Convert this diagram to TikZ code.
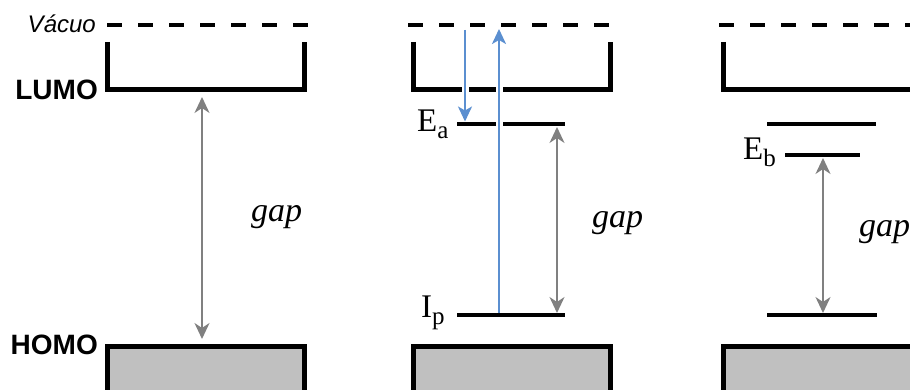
\documentclass[tikz,border=0pt]{standalone}
\usepackage{fontspec}
\setmainfont{Liberation Serif}
\newfontfamily\arialf{Liberation Sans}
\usetikzlibrary{arrows.meta}
\definecolor{bandgray}{HTML}{C0C0C0}
\definecolor{arrowgray}{HTML}{808080}
\definecolor{photon}{HTML}{5B8FD0}
\newcommand{\subtxt}[1]{{\fontsize{25}{25}\selectfont\raisebox{-7pt}{#1}}}
\begin{document}
\begin{tikzpicture}[x=1pt,y=-1pt,
  vac/.style={line width=4pt, dash pattern=on 15pt off 16pt},
  well/.style={line width=5pt, line join=miter},
  level/.style={line width=4pt},
  band/.style={line width=5pt, fill=bandgray},
  gaparrow/.style={draw=arrowgray, line width=2pt,
    {Stealth[length=16pt,width=15pt,inset=5pt]}-{Stealth[length=16pt,width=15pt,inset=5pt]}},
  photonarrow/.style={draw=photon, line width=2.2pt,
    -{Stealth[length=15pt,width=14pt,inset=4pt]},
    preaction={draw=white, line width=7pt, arrows=-}},
  sanslbl/.style={inner sep=0pt, font=\arialf\bfseries\fontsize{28}{28}\selectfont},
  vaclbl/.style={inner sep=0pt, font=\arialf\itshape\fontsize{24}{24}\selectfont},
  serlbl/.style={inner sep=0pt, font=\fontsize{33}{33}\selectfont},
  gaplbl/.style={inner sep=0pt, font=\itshape\fontsize{34}{34}\selectfont}
]
\useasboundingbox (0,0) rectangle (910,390);
\clip (0,0) rectangle (910,390);

% ---------- Panel 1 ----------
\draw[vac] (107,25) -- (308,25);
\draw[well] (107,42) -- (107,90) -- (304,90) -- (304,42);
\draw[band] (107,346) rectangle (304,420);
\node[vaclbl, anchor=base east] (vacuo) at (96,33) {Vácuo};
\node[sanslbl, anchor=base east] (lumo) at (98,100) {LUMO};
\node[sanslbl, anchor=base east] (homo) at (98,354) {HOMO};
\coordinate (g1top) at (202,97);
\coordinate (g1bot) at (202,339);
\draw[gaparrow] (g1top) -- (g1bot);
\node[gaplbl, anchor=west] (gap1) at (251,217) {gap};

% ---------- Panel 2 ----------
\draw[vac] (408,25) -- (609,25);
\draw[well] (413,42) -- (413,90) -- (610,90) -- (610,42);
\draw[band] (413,346) rectangle (610,420);
\draw[level] (457,124) coordinate (ea-l) -- (565,124) coordinate (ea-r);
\draw[level] (457,315) coordinate (ip-l) -- (565,315) coordinate (ip-r);
\node[serlbl, anchor=base west] (ea) at (417,132) {E\subtxt{a}};
\node[serlbl, anchor=base west] (ip) at (421,317) {I\subtxt{p}};
\coordinate (g2top) at (557,127);
\coordinate (g2bot) at (557,313);
\draw[gaparrow] (g2top) -- (g2bot);
\node[gaplbl, anchor=west] (gap2) at (592,223) {gap};
\coordinate (down-s) at (465,30);
\coordinate (down-e) at (465,121.5);
\coordinate (up-s) at (499,313);
\coordinate (up-e) at (499,29);
\draw[photonarrow] (down-s) -- (down-e);
\draw[photonarrow] (up-s) -- (up-e);

% ---------- Panel 3 ----------
\draw[vac] (719,25) -- (940,25);
\draw[well] (723,42) -- (723,90) -- (940,90);
\draw[band] (723,346) rectangle (940,420);
\draw[level] (767,124) -- (876,124);
\draw[level] (785,155) coordinate (eb-l) -- (860,155) coordinate (eb-r);
\draw[level] (767,315) coordinate (b3-l) -- (877,315) coordinate (b3-r);
\node[serlbl, anchor=base west] (eb) at (743,160) {E\subtxt{b}};
\coordinate (g3top) at (823,158);
\coordinate (g3bot) at (823,313);
\draw[gaparrow] (g3top) -- (g3bot);
\node[gaplbl, anchor=west] (gap3) at (859,232) {gap};
\end{tikzpicture}
\end{document}
